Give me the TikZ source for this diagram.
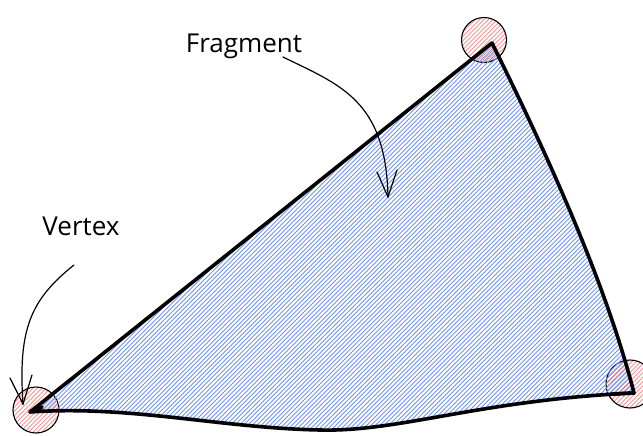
\documentclass[tikz,border=0pt]{standalone}
\usepackage{fontspec}
\setmainfont{Open Sans}
\definecolor{hatchblue}{HTML}{7396EE}
\definecolor{hatchred}{HTML}{F79494}
\tikzset{
  lbl/.style={font=\fontsize{26}{30}\selectfont, text=black, inner sep=0pt},
  vertexdot/.style={draw=black, line width=1.1pt, circle, inner sep=0pt},
  bluehatch/.style={draw=hatchblue, line width=0.9pt},
  redhatch/.style={draw=hatchred, line width=0.9pt},
  edge/.style={draw=black, line width=3.6pt, line join=round, line cap=round},
  pointer/.style={draw=black, line width=1.2pt, line cap=round},
}
\begin{document}
\begin{tikzpicture}[x=1pt,y=-1pt]
\useasboundingbox (0,0) rectangle (643,436);
% vertex circles: red hatching
\foreach \cx/\cy/\r in {484/40/22.5, 36/410/23, 630/384/24}{
  \begin{scope}
    \clip (\cx,\cy) circle[radius=\r];
    \foreach \c in {-60,-55.6,...,80}
      \draw[redhatch] (\cx+\c+60,\cy-60) -- (\cx+\c-60,\cy+60);
  \end{scope}
}
\node[vertexdot, minimum size=45pt] (vb) at (484,40) {};
\node[vertexdot, minimum size=46pt] (va) at (36,410) {};
\node[vertexdot, minimum size=48pt] (vc) at (630,384) {};
% triangle corners
\coordinate (A) at (30,412);
\coordinate (B) at (492,43);
\coordinate (C) at (634,393);
\begin{scope}
  \clip (A) -- (B) .. controls (545,150) and (605,280) .. (C)
    .. controls (480,400) and (400,432) .. (320,430)
    .. controls (220,428) and (130,405) .. (A) -- cycle;
  \foreach \c in {0,4.4,...,1100}
    \draw[bluehatch] (\c,0) -- (\c-440,440);
\end{scope}
\draw[edge] (A) -- (B) .. controls (545,150) and (605,280) .. (C)
  -- (612,394);
\draw[edge] (C) .. controls (480,400) and (400,432) .. (320,430)
  .. controls (220,428) and (130,405) .. (A) -- (42,407);
% labels
\node[lbl] (frag) at (244,46) {Fragment};
\node[lbl] (vert) at (81,226) {Vertex};
% pointers
\coordinate (fs) at (283,57);
\coordinate (fe) at (388,197);
\draw[pointer] (fs) .. controls (340,85) and (386,100) .. (fe);
\draw[pointer] (377,172) -- (fe) -- (397,170);
\coordinate (vs) at (74,265);
\coordinate (ve) at (23,404);
\draw[pointer] (vs) .. controls (30,300) and (18,330) .. (ve);
\draw[pointer] (10,378) -- (ve) -- (32,375);
\end{tikzpicture}
\end{document}
